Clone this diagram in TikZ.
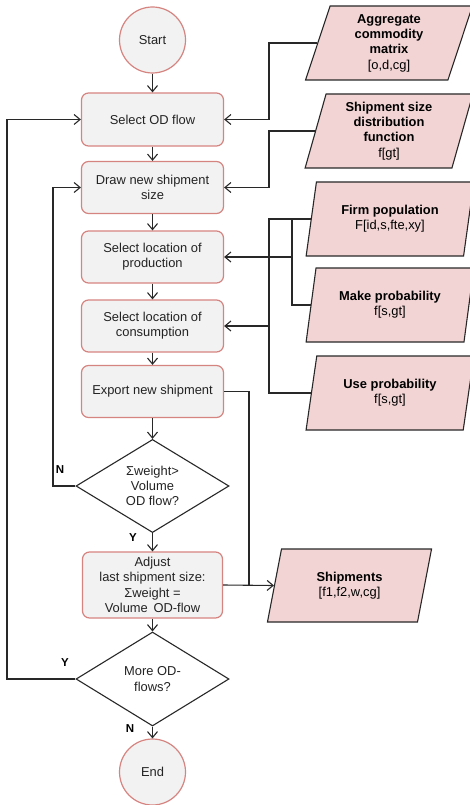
\documentclass[tikz,border=0pt]{standalone}
\usepackage{fontspec}
\setmainfont{Liberation Sans}
\usetikzlibrary{shapes.geometric,arrows.meta}
\definecolor{boxfill}{RGB}{242,242,242}
\definecolor{boxline}{RGB}{214,132,128}
\definecolor{datafill}{RGB}{242,212,212}
\definecolor{lineclr}{RGB}{40,40,40}
\definecolor{txt}{RGB}{35,35,35}
\begin{document}
\begin{tikzpicture}[x=1pt,y=-1pt,
 font=\fontsize{12.9}{15.3}\selectfont,
 proc/.style={draw=boxline, fill=boxfill, line width=1.2pt, rounded corners=7pt, minimum width=142pt, minimum height=52pt, align=center, text=txt, inner sep=0pt},
 term/.style={circle, draw=boxline, fill=boxfill, line width=1.2pt, minimum size=66pt, inner sep=0pt, text=txt},
 decision/.style={diamond, draw=lineclr, fill=white, line width=1.1pt, minimum width=153pt, minimum height=92pt, inner sep=0pt, align=center, text=txt},
 data/.style={trapezium, trapezium left angle=76, trapezium right angle=104, trapezium stretches=true, draw=lineclr, fill=datafill, line width=1.1pt, minimum width=168pt, minimum height=74pt, inner sep=0pt, align=center, text=black},
 arr/.style={draw=lineclr, line width=1.1pt, -{Straight Barb[length=6pt,width=10pt]}},
 conn/.style={draw=lineclr, line width=1.1pt},
 lbl/.style={font=\fontsize{11.5}{13}\selectfont\bfseries, text=black}
]
\fill[white] (0,0) rectangle (470,805);
\useasboundingbox (0,0) rectangle (470,805);

% main column
\node[term] (start) at (152.5,40) {Start};
\node[proc, minimum height=53pt] (odflow) at (152.5,119.5) {Select OD flow};
\node[proc] (drawsize) at (152.5,187.5) {Draw new shipment\\size};
\node[proc] (prod) at (152.5,257) {Select location of\\production};
\node[proc] (cons) at (152.5,326) {Select location of\\consumption};
\node[proc] (export) at (152.5,391.5) {Export new shipment};
\node[decision] (dec1) at (152.5,486) {Σweight>\\Volume\\OD flow?};
\node[proc, minimum width=140pt, minimum height=66pt] (adjust) at (152.5,585) {Adjust\\last shipment size:\\Σweight =\\Volume\, OD-flow};
\node[decision, minimum height=94pt] (dec2) at (152.5,679) {More OD-\\flows?};
\node[term] (end) at (152.5,772) {End};

% data
\node[data] (agg) at (389,43) {\textbf{Aggregate}\\\textbf{commodity}\\\textbf{matrix}\\{[o,d,cg]}};
\node[data] (ssd) at (389,131) {\textbf{Shipment size}\\\textbf{distribution}\\\textbf{function}\\f[gt]};
\node[data] (firm) at (390,219) {\textbf{Firm population}\\F[id,s,fte,xy]};
\node[data] (make) at (390,305) {\textbf{Make probability}\\f[s,gt]};
\node[data] (use) at (390,393) {\textbf{Use probability}\\f[s,gt]};
\node[data, minimum width=165pt, minimum height=73pt] (ship) at (349.5,585.5) {\textbf{Shipments}\\{[f1,f2,w,cg]}};

% helper coordinates
\coordinate (busA) at (269,0);
\coordinate (busB) at (292,0);
\coordinate (busC) at (249,0);
\coordinate (loopN) at (53,0);
\coordinate (loopY) at (7,0);

% main flow
\draw[arr] (start) -- (odflow);
\draw[arr] (odflow) -- (drawsize);
\draw[arr] (drawsize) -- (prod);
\draw[arr] (prod) -- (cons);
\draw[arr] (cons) -- (export);
\draw[arr] (export) -- (dec1);
\draw[arr] (dec1) -- (adjust);
\draw[arr] (adjust) -- (dec2);
\draw[arr] (dec2) -- (end);

% loops
\draw[arr] (dec1.west) -- (loopN |- dec1.west) |- (drawsize.west);
\draw[arr] (dec2.west) -- (loopY |- dec2.west) |- (odflow.west);

\node[lbl] (n1) at (60,470) {N};
\node[lbl] (y1) at (133,538) {Y};
\node[lbl] (y2) at (65,663) {Y};
\node[lbl] (n2) at (130,729) {N};

% data links
\draw[arr] (agg.left side) -| (busA |- odflow.east) -- (odflow.east);
\draw[arr] (ssd.left side) -| (busA |- drawsize.east) -- (drawsize.east);
\draw[conn] (firm.left side) -| (busA |- use.left side) -- (use.left side);
\draw[arr] (busA |- cons.east) -- (cons.east);
\draw[conn] (busB |- firm.left side) |- (make.left side);
\draw[arr] (busB |- prod.east) -- (prod.east);
\draw[conn] (export.east) -| (busC |- ship.left side);
\draw[arr] (adjust.east) -- (ship.left side);
\end{tikzpicture}
\end{document}
